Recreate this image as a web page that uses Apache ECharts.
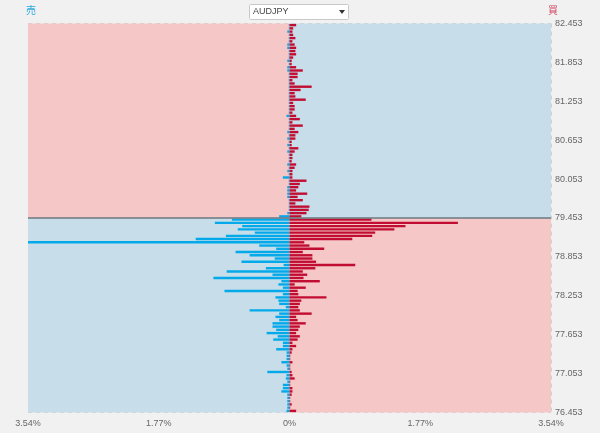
<!DOCTYPE html>
<html>
<head>
<meta charset="utf-8">
<script src="https://cdn.jsdelivr.net/npm/echarts@6/dist/echarts.min.js"></script>
<style>
html,body{margin:0;padding:0;background:#f1f1f1;}
#chart{width:600px;height:433px;}
</style>
</head>
<body>
<div id="chart"></div>
<script>
// Instrument and side labels
const symbol = 'AUDJPY';
const sellLabel = '売';
const buyLabel = '買';

// Price axis: bottom 76.453, top 82.453, current price 79.453
const priceMin = 76.453;
const priceMax = 82.453;
const currentPrice = 79.453;
const bucketWidth = 0.05;

// x-axis range (percent)
const pctMax = 3.54;
const pctStep = 1.77;

// Buy (red) percentages, listed from top bucket (82.403-82.453) down to bottom bucket
const buyTop = [0.09,0.05,0.04,0.05,0.08,0.04,0.07,0.09,0.08,0.09,
  0.05,0.03,0.03,0.09,0.18,0.11,0.11,0.04,0.07,0.30,
  0.15,0.07,0.08,0.22,0.05,0.07,0.07,0.04,0.09,0.14,
  0.04,0.18,0.07,0.12,0.08,0.08,0.03,0.03,0.12,0.07,
  0.04,0.04,0.03,0.09,0.07,0.04,0.04,0.04,0.23,0.14,
  0.12,0.09,0.24,0.11,0.18,0.08,0.27,0.26,0.23,0.16];
const buyBottom = [1.11,2.28,1.57,1.42,1.16,1.12,0.85,0.20,0.27,0.47,
  0.18,0.31,0.31,0.36,0.89,0.35,0.18,0.24,0.19,0.41,
  0.07,0.22,0.11,0.12,0.50,0.16,0.14,0.12,0.14,0.30,
  0.09,0.11,0.22,0.14,0.12,0.09,0.14,0.11,0.04,0.09,
  0.04,0.03,0.01,0.01,0.04,0.01,0.01,0.03,0.04,0.07,
  0.01,0.01,0.04,0.04,0.03,0.01,0.01,0.03,0.01,0.09];

// Sell (blue) percentages, same order
const sellTop = [0.01,0.01,0.03,0.01,0.01,0.01,0.03,0.03,0.01,0.01,
  0.01,0.03,0.01,0.03,0.03,0.01,0.01,0.01,0.01,0.01,
  0.01,0.01,0.01,0.01,0.01,0.01,0.01,0.01,0.04,0.01,
  0.01,0.01,0.01,0.03,0.01,0.03,0.01,0.03,0.01,0.03,
  0.01,0.01,0.01,0.03,0.01,0.03,0.01,0.09,0.01,0.01,
  0.03,0.03,0.03,0.03,0.01,0.01,0.01,0.01,0.03,0.14];
const sellBottom = [0.78,1.01,0.64,0.70,0.47,0.86,1.27,3.65,0.41,0.18,
  0.73,0.54,0.20,0.65,0.08,0.32,0.85,0.23,1.03,0.11,
  0.15,0.09,0.88,0.09,0.19,0.15,0.14,0.05,0.54,0.14,
  0.19,0.14,0.23,0.23,0.18,0.31,0.16,0.22,0.09,0.09,
  0.18,0.04,0.04,0.04,0.11,0.04,0.03,0.30,0.04,0.05,
  0.03,0.09,0.09,0.11,0.03,0.03,0.03,0.03,0.03,0.04];

const buyValues = buyTop.concat(buyBottom);
const sellValues = sellTop.concat(sellBottom);

// Bucket categories (top to bottom)
const nBuckets = buyValues.length;
const categories = [];
for (let i = 0; i < nBuckets; i++) {
  categories.push((priceMax - bucketWidth * (i + 1)).toFixed(3));
}

const PINK = '#f5c7c7';
const BLUE = '#c7deea';
const RED_BAR = '#c20d33';
const BLUE_BAR = '#03a9e9';

const chart = echarts.init(document.getElementById('chart'), null, {renderer: 'canvas'});
const span = priceMax - priceMin;
const cur = currentPrice - priceMin;

chart.setOption({
  animation: false,
  backgroundColor: '#f1f1f1',
  grid: {left: 28, right: 49, top: 23.5, bottom: 20.5, containLabel: false},
  xAxis: {
    type: 'value', min: -pctMax, max: pctMax, interval: pctStep,
    axisLine: {show: false}, axisTick: {show: false},
    axisLabel: {
      color: '#666', fontSize: 9, fontFamily: 'Arial, Liberation Sans, sans-serif', margin: 7,
      formatter: v => (Math.abs(v) < 1e-6 ? '0' : Math.abs(v).toFixed(2)) + '%'
    },
    splitLine: {show: true, lineStyle: {color: 'rgba(180,180,180,0.55)', type: [4, 4], width: 1}}
  },
  yAxis: [
    {
      type: 'category', data: categories, inverse: true, show: false,
      boundaryGap: true
    },
    {
      type: 'value', min: 0, max: span, interval: 0.6, position: 'right',
      axisLine: {show: false}, axisTick: {show: false},
      axisLabel: {
        color: '#666', fontSize: 9, fontFamily: 'Arial, Liberation Sans, sans-serif', margin: 4,
        formatter: v => (v + priceMin).toFixed(3)
      },
      splitLine: {show: true, lineStyle: {color: 'rgba(180,180,180,0.55)', type: [4, 4], width: 1}}
    }
  ],
  graphic: [
    {type: 'text', left: 26, top: 5, style: {text: sellLabel, fill: '#29a9e0', font: '10px "Noto Sans CJK JP"'}},
    {type: 'text', left: 548, top: 5, style: {text: buyLabel, fill: '#d0435f', font: '10px "Noto Sans CJK JP"'}},
    {type: 'rect', shape: {x: 249.5, y: 4.5, width: 99, height: 15, r: 1}, style: {fill: '#fff', stroke: '#c8c8c8', lineWidth: 1}},
    {type: 'text', x: 253, y: 12, style: {text: symbol, fill: '#444', font: '9px Arial, "Liberation Sans", sans-serif', verticalAlign: 'middle'}},
    {type: 'polygon', shape: {points: [[339, 10], [345, 10], [342, 14]]}, style: {fill: '#333'}}
  ],
  series: [
    {
      type: 'line', xAxisIndex: 0, yAxisIndex: 1, data: [], silent: true,
      markArea: {
        silent: true,
        data: [
          [{xAxis: -pctMax, yAxis: cur, itemStyle: {color: PINK}}, {xAxis: 0, yAxis: span}],
          [{xAxis: 0, yAxis: cur, itemStyle: {color: BLUE}}, {xAxis: pctMax, yAxis: span}],
          [{xAxis: -pctMax, yAxis: 0, itemStyle: {color: BLUE}}, {xAxis: 0, yAxis: cur}],
          [{xAxis: 0, yAxis: 0, itemStyle: {color: PINK}}, {xAxis: pctMax, yAxis: cur}]
        ]
      },
      z: 0
    },
    {
      name: sellLabel, type: 'bar', xAxisIndex: 0, yAxisIndex: 0,
      data: sellValues.map(v => -v),
      barWidth: 2.4, barGap: '-100%',
      itemStyle: {color: BLUE_BAR},
      z: 3
    },
    {
      name: buyLabel, type: 'bar', xAxisIndex: 0, yAxisIndex: 0,
      data: buyValues,
      barWidth: 2.4, barGap: '-100%',
      itemStyle: {color: RED_BAR},
      z: 3
    },
    {
      type: 'line', xAxisIndex: 0, yAxisIndex: 1, data: [], silent: true,
      markLine: {
        silent: true, symbol: 'none', label: {show: false},
        lineStyle: {color: '#6b7880', width: 1.5, type: 'solid'},
        data: [{yAxis: cur}]
      },
      z: 5
    }
  ]
});
</script>
</body>
</html>
